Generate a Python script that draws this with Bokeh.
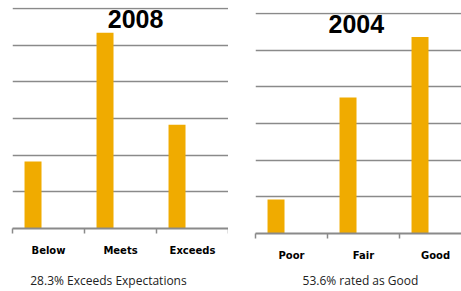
from bokeh.plotting import figure
from bokeh.models import Range1d, FixedTicker, Label, LinearAxis
from bokeh.layouts import row, column
from bokeh.embed import file_html
from bokeh.resources import INLINE

# ---- data ----
cats_2008 = ["Below", "Meets", "Exceeds"]
vals_2008 = [18.3, 53.4, 28.3]
cats_2004 = ["Poor", "Fair", "Good"]
vals_2004 = [9.3, 37.1, 53.6]
y_ticks = [0, 10, 20, 30, 40, 50, 60]
title_2008 = "2008"
title_2004 = "2004"
caption_2008 = "28.3% Exceeds Expectations"
caption_2004 = "53.6% rated as Good"

BAR = "#F0AB00"
GRID = "#8a8a8a"
H = 291
FRAME_H = 221
Y_END = 60.27


def make_chart(cats, vals, title, caption, width, x_end, border_left, border_top,
               title_x, title_y, caption_x, caption_standoff):
    p = figure(width=width, height=H, output_backend="svg", toolbar_location=None,
               x_range=Range1d(0, x_end), y_range=Range1d(0, Y_END),
               min_border_left=border_left, min_border_right=0,
               min_border_top=border_top, min_border_bottom=H - FRAME_H - border_top)
    p.outline_line_color = None
    p.background_fill_color = "white"
    p.border_fill_color = "white"
    n = len(cats)
    xs = [i + 0.285 for i in range(n)]
    p.vbar(x=xs, top=vals, width=0.236, bottom=0, color=BAR, line_color=None)

    p.yaxis.visible = False
    p.xgrid.visible = False
    p.ygrid.ticker = FixedTicker(ticks=y_ticks)
    p.ygrid.grid_line_color = GRID
    p.ygrid.grid_line_width = 1.5

    ax = p.xaxis[0]
    ax.ticker = FixedTicker(ticks=[i + 0.5 for i in range(n)],
                            minor_ticks=[float(i) for i in range(n + 1)])
    ax.major_label_overrides = {i + 0.5: c for i, c in enumerate(cats)}
    ax.major_tick_line_color = None
    ax.major_tick_out = 0
    ax.major_tick_in = 0
    ax.minor_tick_out = 5
    ax.minor_tick_in = 0
    ax.minor_tick_line_color = GRID
    ax.minor_tick_line_width = 1.5
    ax.axis_line_color = GRID
    ax.axis_line_width = 2
    ax.major_label_standoff = 11
    ax.major_label_text_font = "DejaVu Sans"
    ax.major_label_text_font_style = "bold"
    ax.major_label_text_font_size = "10px"
    ax.major_label_text_color = "black"

    # caption as a second, line-less axis below the category axis
    cap = LinearAxis(ticker=FixedTicker(ticks=[caption_x], minor_ticks=[]),
                     major_label_overrides={caption_x: caption})
    cap.axis_line_color = None
    cap.major_tick_line_color = None
    cap.minor_tick_line_color = None
    cap.major_tick_out = 0
    cap.major_tick_in = 0
    cap.minor_tick_out = 0
    cap.minor_tick_in = 0
    cap.major_label_standoff = caption_standoff
    cap.major_label_text_font = "Open Sans"
    cap.major_label_text_font_size = "12px"
    cap.major_label_text_color = "#222222"
    p.add_layout(cap, "below")

    p.add_layout(Label(x=title_x, y=title_y, text=title, text_align="center",
                       text_baseline="middle", text_font="Liberation Sans",
                       text_font_style="bold", text_font_size="25px",
                       text_color="black"))
    return p


p1 = make_chart(cats_2008, vals_2008, title_2008, caption_2008, width=228, x_end=3,
                border_left=12, border_top=7, title_x=1.71, title_y=57.1,
                caption_x=1.333, caption_standoff=13)
p2 = make_chart(cats_2004, vals_2004, title_2004, caption_2004, width=233, x_end=206 / 72,
                border_left=27, border_top=12, title_x=1.40, title_y=57.0,
                caption_x=1.458, caption_standoff=8)

layout = row(column(p1), column(p2))
open("out.html", "w").write(file_html(layout, INLINE))
